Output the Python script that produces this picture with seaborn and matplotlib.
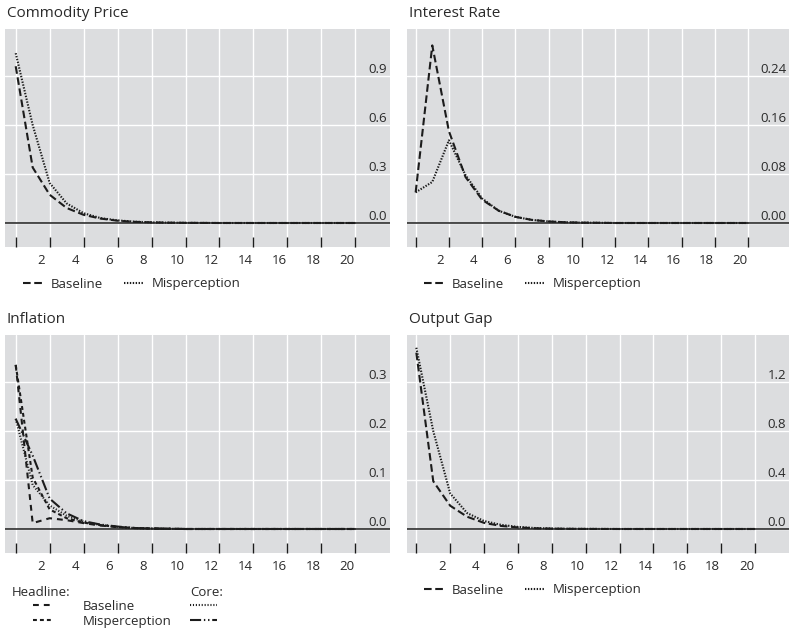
import matplotlib
matplotlib.use("Agg")
import matplotlib.pyplot as plt
import seaborn as sns
from matplotlib.ticker import FixedLocator, FixedFormatter, NullFormatter

# ---------------- data ----------------
periods = list(range(21))
x_tick_labels = [str(k) for k in range(2, 21, 2)]

commodity_baseline = [0.96, 0.34, 0.173, 0.092, 0.05, 0.027, 0.014, 0.007, 0.004, 0.002, 0.001,
                      0.0005, 0, 0, 0, 0, 0, 0, 0, 0, 0]
commodity_misperception = [1.04, 0.60, 0.245, 0.12, 0.06, 0.03, 0.016, 0.008, 0.004, 0.002, 0.001,
                           0.0005, 0, 0, 0, 0, 0, 0, 0, 0, 0]

interest_baseline = [0.05, 0.29, 0.15, 0.075, 0.038, 0.02, 0.01, 0.005, 0.0025, 0.0012, 0.0006,
                     0.0003, 0, 0, 0, 0, 0, 0, 0, 0, 0]
interest_misperception = [0.05, 0.067, 0.135, 0.078, 0.04, 0.02, 0.01, 0.005, 0.0025, 0.0012, 0.0006,
                          0.0003, 0, 0, 0, 0, 0, 0, 0, 0, 0]

headline_baseline = [0.335, 0.012, 0.022, 0.018, 0.012, 0.007, 0.004, 0.002, 0.001, 0.0005, 0,
                     0, 0, 0, 0, 0, 0, 0, 0, 0, 0]
headline_misperception = [0.335, 0.105, 0.04, 0.022, 0.013, 0.008, 0.004, 0.002, 0.001, 0.0005, 0,
                          0, 0, 0, 0, 0, 0, 0, 0, 0, 0]
core_baseline = [0.225, 0.09, 0.048, 0.027, 0.015, 0.008, 0.004, 0.002, 0.001, 0.0005, 0,
                 0, 0, 0, 0, 0, 0, 0, 0, 0, 0]
core_misperception = [0.225, 0.15, 0.062, 0.032, 0.016, 0.009, 0.005, 0.002, 0.001, 0.0005, 0,
                      0, 0, 0, 0, 0, 0, 0, 0, 0, 0]

output_baseline = [1.44, 0.39, 0.19, 0.10, 0.05, 0.025, 0.013, 0.006, 0.003, 0.0015, 0.0007,
                   0.0003, 0, 0, 0, 0, 0, 0, 0, 0, 0]
output_misperception = [1.48, 0.80, 0.29, 0.13, 0.065, 0.034, 0.017, 0.008, 0.004, 0.002, 0.001,
                        0.0005, 0, 0, 0, 0, 0, 0, 0, 0, 0]

commodity_ticks = ["0.0", "0.3", "0.6", "0.9"]
interest_ticks = ["0.00", "0.08", "0.16", "0.24"]
inflation_ticks = ["0.0", "0.1", "0.2", "0.3"]
output_ticks = ["0.0", "0.4", "0.8", "1.2"]

# ---------------- style ----------------
sns.set_theme(style="darkgrid")
plt.rcParams["font.family"] = ["Open Sans", "DejaVu Sans"]
plt.rcParams["lines.scale_dashes"] = False

BG = "#dcdddf"
INK = "#1c1c1c"
TXT = "#2a2a2a"
LW = 1.5
FS = 9.5
TFS = 11
DASH = (0, (5.5, 2.6))
DOT = (0, (1.0, 1.1))
HB_LS = (0, (4.2, 3.6))
HM_LS = (0, (2.8, 2.2))
CB_LS = (0, (0.8, 1.3))
CM_LS = (0, (8.0, 2.0, 1.0, 2.0, 1.0, 2.0))

W, H = 789, 633
fig = plt.figure(figsize=(W / 100, H / 100), dpi=100)
fig.patch.set_facecolor("white")


def px_axes(l, t, r, b):
    return fig.add_axes([l / W, 1 - b / H, (r - l) / W, (b - t) / H])


def setup(ax, title, step, labels, xlim):
    ax.set_facecolor(BG)
    ax.set_xlim(*xlim)
    ax.set_ylim(-0.49 * step, 3.96 * step)
    ax.xaxis.set_major_locator(FixedLocator(list(range(0, 21, 2))))
    ax.xaxis.set_minor_locator(FixedLocator([k - 0.5 for k in range(2, 21, 2)]))
    ax.xaxis.set_major_formatter(NullFormatter())
    ax.xaxis.set_minor_formatter(FixedFormatter(x_tick_labels))
    ax.tick_params(axis="x", which="major", direction="in", length=7.2, width=1.0,
                   color=INK, bottom=True, top=False)
    ax.tick_params(axis="x", which="minor", length=0, pad=5, labelsize=FS,
                   labelcolor=TXT, bottom=True)
    ax.yaxis.tick_right()
    ax.yaxis.set_major_locator(FixedLocator([0, step, 2 * step, 3 * step]))
    ax.yaxis.set_major_formatter(FixedFormatter(labels))
    ax.tick_params(axis="y", length=0, pad=-2, labelsize=FS, labelcolor=TXT)
    for lab in ax.get_yticklabels():
        lab.set_horizontalalignment("right")
        lab.set_verticalalignment("bottom")
    ax.grid(True, which="major", color="white", lw=1.0)
    ax.grid(False, which="minor")
    ax.axhline(0, color=INK, lw=1.1, zorder=2)
    for s in ax.spines.values():
        s.set_visible(False)
    ax.set_title(title, loc="left", fontsize=TFS, color=TXT, pad=8.5, x=0.004)
    ax.set_xlabel("")
    ax.set_ylabel("")


def line(ax, y, ls, label):
    sns.lineplot(x=periods, y=y, ax=ax, color=INK, lw=LW, linestyle=ls,
                 label=label, legend=False, zorder=3)
    return ax.lines[-1]


def two_legend(handles, labels, x_px, y_px):
    fig.legend(handles, labels, loc="center left",
               bbox_to_anchor=(x_px / W, 1 - y_px / H), bbox_transform=fig.transFigure,
               ncol=2, frameon=False, fontsize=FS, labelcolor=TXT,
               handlelength=1.5, handletextpad=0.6, columnspacing=1.6,
               borderpad=0, borderaxespad=0)


# Commodity Price
ax1 = px_axes(5, 29, 390, 247)
setup(ax1, "Commodity Price", 0.3, commodity_ticks, (-0.63, 22.04))
h1 = line(ax1, commodity_baseline, DASH, "Baseline")
h2 = line(ax1, commodity_misperception, DOT, "Misperception")
two_legend([h1, h2], ["Baseline", "Misperception"], 23, 284)

# Interest Rate
ax2 = px_axes(407, 29, 789, 247)
setup(ax2, "Interest Rate", 0.08, interest_ticks, (-0.52, 22.45))
h1 = line(ax2, interest_baseline, DASH, "Baseline")
h2 = line(ax2, interest_misperception, DOT, "Misperception")
two_legend([h1, h2], ["Baseline", "Misperception"], 424, 284)

# Inflation
ax3 = px_axes(5, 335, 390, 553)
setup(ax3, "Inflation", 0.1, inflation_ticks, (-0.63, 22.04))
hb = line(ax3, headline_baseline, HB_LS, "Headline baseline")
hm = line(ax3, headline_misperception, HM_LS, "Headline misperception")
cb = line(ax3, core_baseline, CB_LS, "Core baseline")
cm = line(ax3, core_misperception, CM_LS, "Core misperception")

fig.text(12 / W, 1 - 592 / H, "Headline:", fontsize=FS, color=TXT, va="center", ha="left")
fig.text(190 / W, 1 - 592 / H, "Core:", fontsize=FS, color=TXT, va="center", ha="left")
fig.legend([hb, hm], ["Baseline", "Misperception"], loc="upper left",
           bbox_to_anchor=(33 / W, 1 - 600 / H), bbox_transform=fig.transFigure,
           frameon=False, fontsize=FS, labelcolor=TXT, handlelength=1.4,
           handletextpad=2.35, labelspacing=0.15, borderpad=0, borderaxespad=0)
fig.legend([cb, cm], ["", ""], loc="upper left",
           bbox_to_anchor=(190 / W, 1 - 600 / H), bbox_transform=fig.transFigure,
           frameon=False, fontsize=FS, labelcolor=TXT, handlelength=2.05,
           handletextpad=0.0, labelspacing=0.15, borderpad=0, borderaxespad=0)

# Output Gap
ax4 = px_axes(407, 335, 789, 553)
setup(ax4, "Output Gap", 0.4, output_ticks, (-0.55, 22.0))
h1 = line(ax4, output_baseline, DASH, "Baseline")
h2 = line(ax4, output_misperception, DOT, "Misperception")
two_legend([h1, h2], ["Baseline", "Misperception"], 424, 590)

fig.savefig("out.png", dpi=100, facecolor="white")
